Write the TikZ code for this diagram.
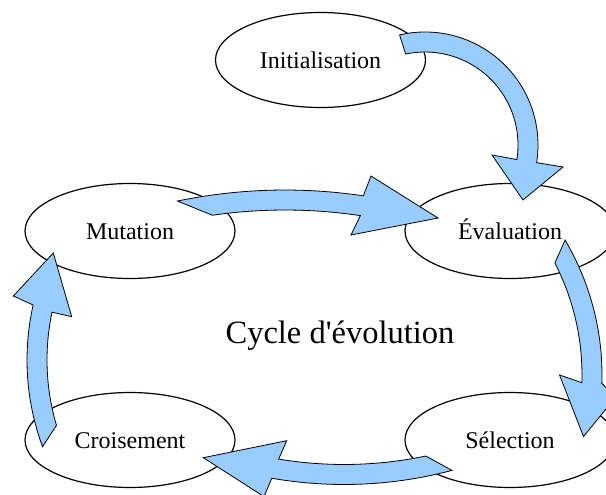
\documentclass[tikz,border=0pt]{standalone}
\usepackage{fontspec}
\setmainfont{Liberation Serif}[Ligatures=TeXOff]
\usetikzlibrary{shapes.geometric,calc}
\definecolor{arrowblue}{HTML}{99CCFF}
\tikzset{
  stage/.style={ellipse, draw=black, line width=1.2pt, fill=white,
    minimum width=210pt, minimum height=95pt, inner sep=0pt,
    text height=16.5pt, text depth=0pt,
    font=\fontsize{24}{28}\selectfont},
  blockarrow/.style={fill=arrowblue, draw=black, line width=0.8pt, line join=miter},
  title/.style={font=\fontsize{32.5}{38}\selectfont, anchor=base, inner sep=0pt}
}
\begin{document}
\begin{tikzpicture}[x=1pt,y=1pt,yscale=-1]
\useasboundingbox (0,0) rectangle (606,495);
\clip (0,0) rectangle (606,495);

% stages
\node[stage] (init) at (320.5,60) {Initialisation};
\node[stage] (mut)  at (130,231)  {Mutation};
\node[stage] (eval) at (510,231)  {Évaluation};
\node[stage] (crois) at (130,440) {Croisement};
\node[stage] (sel)  at (510,440)  {Sélection};

\node[title] (cycle) at (340,343) {Cycle d'évolution};

% arc centres of the curved block arrows
\coordinate (c1) at (425,145);
\coordinate (c2) at (285,720);
\coordinate (c3) at (337,375);
\coordinate (c4) at (344,64.5);
\coordinate (c5) at (277,360);

% head corners and tips
\coordinate (h1a) at (563,167);   \coordinate (t1) at (523,200);   \coordinate (h1b) at (492,155);
\coordinate (h2a) at (371,176);   \coordinate (t2) at (438,218);   \coordinate (h2b) at (351,235);
\coordinate (h3a) at (615.5,397.5); \coordinate (t3) at (583.5,436.5); \coordinate (h3b) at (559.5,375);
\coordinate (h4a) at (264,496.6); \coordinate (t4) at (203.3,457.7); \coordinate (h4b) at (286.7,440.7);
\coordinate (h5a) at (13.3,296);  \coordinate (t5) at (53.3,253);  \coordinate (h5b) at (71.7,316.7);

% Initialisation -> Evaluation
\path[blockarrow] ($(c1)+(-103:113)$) arc[start angle=-103, end angle=9, radius=113pt]
  -- (h1a) -- (t1) -- (h1b) -- ($(c1)+(9:93)$) arc[start angle=9, end angle=-102, radius=93pt] -- cycle;

% Mutation -> Evaluation
\path[blockarrow] ($(c2)+(-101.7:530)$) arc[start angle=-101.7, end angle=-81.5, radius=530pt]
  -- (h2a) -- (t2) -- (h2b) -- ($(c2)+(-81.5:510)$) arc[start angle=-81.5, end angle=-98.2, radius=510pt] -- cycle;

% Evaluation -> Selection
\path[blockarrow] ($(c3)+(-30.6:265)$) arc[start angle=-30.6, end angle=1.8, radius=265pt]
  -- (h3a) -- (t3) -- (h3b) -- ($(c3)+(1.8:245)$) arc[start angle=1.8, end angle=-27.2, radius=245pt] -- cycle;

% Selection -> Croisement
\path[blockarrow] ($(c4)+(75.1:420)$) arc[start angle=75.1, end angle=99.9, radius=420pt]
  -- (h4a) -- (t4) -- (h4b) -- ($(c4)+(99.4:400)$) arc[start angle=99.4, end angle=78.2, radius=400pt] -- cycle;

% Croisement -> Mutation
\path[blockarrow] ($(c5)+(159.7:250)$) arc[start angle=159.7, end angle=192.7, radius=250pt]
  -- (h5a) -- (t5) -- (h5b) -- ($(c5)+(192:230)$) arc[start angle=192, end angle=163.5, radius=230pt] -- cycle;
\end{tikzpicture}
\end{document}
